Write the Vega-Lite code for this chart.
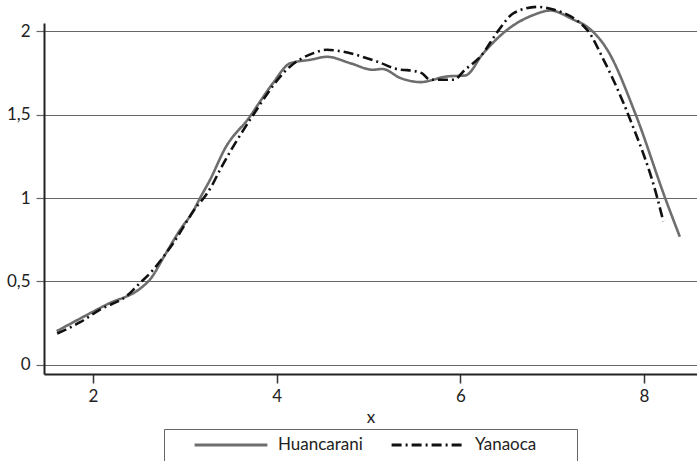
{
  "$schema": "https://vega.github.io/schema/vega-lite/v6.json",
  "width": 653,
  "height": 351,
  "autosize": {"type": "none"},
  "padding": {"left": 44, "top": 23, "right": 0, "bottom": 87},
  "background": "white",
  "config": {
    "view": {"stroke": null},
    "font": "Lato",
    "axis": {"labelFont": "Lato", "titleFont": "Lato", "labelColor": "#222", "titleColor": "#222"}
  },
  "data": {
    "values": [
      {"s": "Huancarani", "x": 1.604, "y": 0.2},
      {"s": "Huancarani", "x": 2.149, "y": 0.36},
      {"s": "Huancarani", "x": 2.545, "y": 0.47},
      {"s": "Huancarani", "x": 2.62, "y": 0.51},
      {"s": "Huancarani", "x": 2.785, "y": 0.66},
      {"s": "Huancarani", "x": 2.95, "y": 0.81},
      {"s": "Huancarani", "x": 3.09, "y": 0.92},
      {"s": "Huancarani", "x": 3.166, "y": 1.0},
      {"s": "Huancarani", "x": 3.275, "y": 1.11},
      {"s": "Huancarani", "x": 3.44, "y": 1.3},
      {"s": "Huancarani", "x": 3.71, "y": 1.49},
      {"s": "Huancarani", "x": 3.82, "y": 1.58},
      {"s": "Huancarani", "x": 3.96, "y": 1.69},
      {"s": "Huancarani", "x": 4.15, "y": 1.81},
      {"s": "Huancarani", "x": 4.365, "y": 1.83},
      {"s": "Huancarani", "x": 4.547, "y": 1.848},
      {"s": "Huancarani", "x": 4.8, "y": 1.81},
      {"s": "Huancarani", "x": 5.05, "y": 1.77},
      {"s": "Huancarani", "x": 5.15, "y": 1.775},
      {"s": "Huancarani", "x": 5.35, "y": 1.72},
      {"s": "Huancarani", "x": 5.564, "y": 1.696},
      {"s": "Huancarani", "x": 5.855, "y": 1.73},
      {"s": "Huancarani", "x": 6.054, "y": 1.736},
      {"s": "Huancarani", "x": 6.25, "y": 1.87},
      {"s": "Huancarani", "x": 6.51, "y": 2.01},
      {"s": "Huancarani", "x": 6.8, "y": 2.1},
      {"s": "Huancarani", "x": 6.98, "y": 2.126},
      {"s": "Huancarani", "x": 7.235, "y": 2.07},
      {"s": "Huancarani", "x": 7.36, "y": 2.036},
      {"s": "Huancarani", "x": 7.6, "y": 1.89},
      {"s": "Huancarani", "x": 7.91, "y": 1.5},
      {"s": "Huancarani", "x": 8.23, "y": 1.0},
      {"s": "Huancarani", "x": 8.39, "y": 0.767},
      {"s": "Yanaoca", "x": 1.61, "y": 0.186},
      {"s": "Yanaoca", "x": 1.86, "y": 0.254},
      {"s": "Yanaoca", "x": 2.076, "y": 0.33},
      {"s": "Yanaoca", "x": 2.385, "y": 0.42},
      {"s": "Yanaoca", "x": 2.476, "y": 0.47},
      {"s": "Yanaoca", "x": 2.657, "y": 0.57},
      {"s": "Yanaoca", "x": 2.73, "y": 0.62},
      {"s": "Yanaoca", "x": 2.875, "y": 0.73},
      {"s": "Yanaoca", "x": 3.13, "y": 0.95},
      {"s": "Yanaoca", "x": 3.22, "y": 1.01},
      {"s": "Yanaoca", "x": 3.29, "y": 1.07},
      {"s": "Yanaoca", "x": 3.384, "y": 1.17},
      {"s": "Yanaoca", "x": 3.71, "y": 1.47},
      {"s": "Yanaoca", "x": 4.147, "y": 1.79},
      {"s": "Yanaoca", "x": 4.4, "y": 1.87},
      {"s": "Yanaoca", "x": 4.547, "y": 1.89},
      {"s": "Yanaoca", "x": 4.73, "y": 1.878},
      {"s": "Yanaoca", "x": 5.09, "y": 1.82},
      {"s": "Yanaoca", "x": 5.35, "y": 1.77},
      {"s": "Yanaoca", "x": 5.42, "y": 1.768},
      {"s": "Yanaoca", "x": 5.58, "y": 1.75},
      {"s": "Yanaoca", "x": 5.67, "y": 1.71},
      {"s": "Yanaoca", "x": 5.93, "y": 1.71},
      {"s": "Yanaoca", "x": 6.05, "y": 1.77},
      {"s": "Yanaoca", "x": 6.22, "y": 1.85},
      {"s": "Yanaoca", "x": 6.42, "y": 2.01},
      {"s": "Yanaoca", "x": 6.58, "y": 2.11},
      {"s": "Yanaoca", "x": 6.84, "y": 2.148},
      {"s": "Yanaoca", "x": 6.98, "y": 2.136},
      {"s": "Yanaoca", "x": 7.38, "y": 2.01},
      {"s": "Yanaoca", "x": 7.56, "y": 1.83},
      {"s": "Yanaoca", "x": 7.85, "y": 1.47},
      {"s": "Yanaoca", "x": 8.14, "y": 1.01},
      {"s": "Yanaoca", "x": 8.21, "y": 0.86}
    ]
  },
  "mark": {"type": "line", "strokeWidth": 2.6, "interpolate": "monotone", "clip": false},
  "encoding": {
    "x": {
      "field": "x", "type": "quantitative",
      "scale": {"domain": [1.4664, 8.577], "nice": false, "zero": false},
      "axis": {
        "values": [2, 4, 6, 8], "grid": false, "title": "x",
        "domainColor": "#222", "domainWidth": 2,
        "tickColor": "#333", "tickWidth": 1.5, "tickSize": 9,
        "labelFontSize": 17, "labelPadding": 5, "titleFontSize": 17, "titleFontWeight": "normal", "titlePadding": 5
      }
    },
    "y": {
      "field": "y", "type": "quantitative",
      "scale": {"domain": [-0.057, 2.051], "nice": false, "zero": false},
      "axis": {
        "values": [0, 0.5, 1, 1.5, 2], "grid": true, "gridColor": "#666", "gridWidth": 1.2, "gridOpacity": 1,
        "title": null,
        "labelExpr": "replace(toString(datum.value), '.', ',')",
        "domainColor": "#222", "domainWidth": 2,
        "tickColor": "#666", "tickWidth": 1.2, "tickSize": 8,
        "labelFontSize": 17, "labelPadding": 6
      }
    },
    "color": {
      "field": "s", "type": "nominal",
      "scale": {"domain": ["Huancarani", "Yanaoca"], "range": ["#6e6e6e", "#111111"]},
      "legend": {
        "title": " ", "titleOrient": "right", "titlePadding": 34, "titleFontSize": 4,
        "orient": "none", "direction": "horizontal",
        "legendX": 120, "legendY": 406,
        "strokeColor": "#666", "padding": 7, "clipHeight": 18,
        "symbolType": "stroke", "symbolSize": 5300, "symbolStrokeWidth": 3,
        "symbolOffset": 22, "labelOffset": 9,
        "labelFontSize": 17, "labelFont": "Lato", "labelColor": "#222",
        "columnPadding": 5
      }
    },
    "strokeDash": {
      "field": "s", "type": "nominal",
      "scale": {"domain": ["Huancarani", "Yanaoca"], "range": [[1, 0], [10, 4, 2, 4]]},
      "legend": {
        "title": " ", "titleOrient": "right", "titlePadding": 34, "titleFontSize": 4,
        "orient": "none", "direction": "horizontal",
        "legendX": 120, "legendY": 406,
        "strokeColor": "#666", "padding": 7, "clipHeight": 18,
        "symbolType": "stroke", "symbolSize": 5300, "symbolStrokeWidth": 3,
        "symbolOffset": 22, "labelOffset": 9,
        "labelFontSize": 17, "labelFont": "Lato", "labelColor": "#222",
        "columnPadding": 5
      }
    }
  }
}
